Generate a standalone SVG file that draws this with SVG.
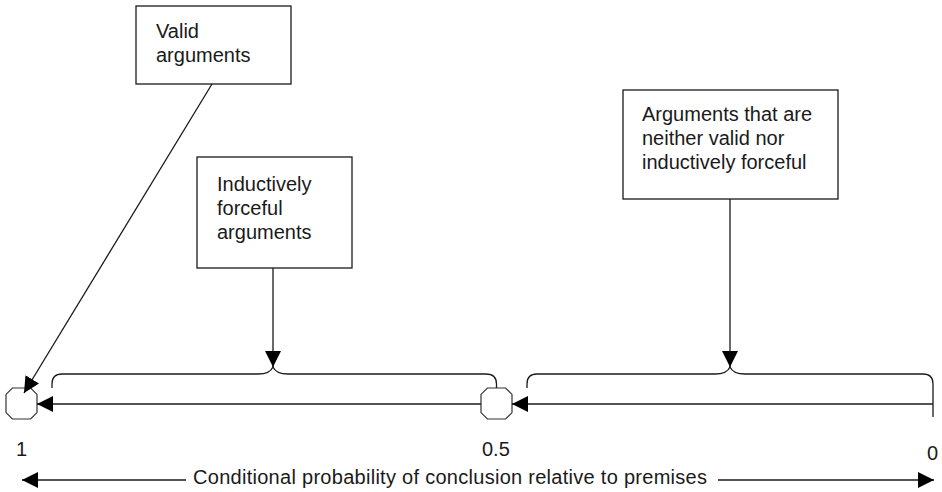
<svg xmlns="http://www.w3.org/2000/svg" width="942" height="492" viewBox="0 0 942 492">
<style>
.box{fill:#fff;stroke:#1a1a1a;stroke-width:1.3}
.ln{fill:none;stroke:#1a1a1a;stroke-width:1.3}
.oct{fill:#fff;stroke:#333;stroke-width:1.2}
text{font-family:"Liberation Sans",Arial,sans-serif;font-size:20px;fill:#1a1a1a}
</style>
<defs>
<marker id="ah" markerUnits="userSpaceOnUse" markerWidth="17" markerHeight="17" refX="16" refY="8" orient="auto">
<path d="M0,0 L16,8 L0,16 z" fill="#000"/>
</marker>
</defs>
<g id="node-valid">
<rect class="box" x="136" y="6" width="155" height="78"/>
<text x="156" y="38">Valid</text>
<text x="156" y="62">arguments</text>
</g>
<g id="node-inductive">
<rect class="box" x="197" y="157" width="155" height="111"/>
<text x="217" y="191">Inductively</text>
<text x="217" y="215">forceful</text>
<text x="217" y="239">arguments</text>
</g>
<g id="node-neither">
<rect class="box" x="623" y="90" width="215" height="109"/>
<text x="642" y="121">Arguments that are</text>
<text x="642" y="145">neither valid nor</text>
<text x="642" y="169">inductively forceful</text>
</g>
<g id="node-one">
<polygon class="oct" points="12.4,388 30.6,388 37,394.4 37,412.6 30.6,419 12.4,419 6,412.6 6,394.4"/>
</g>
<g id="node-half">
<polygon class="oct" points="487.4,388 505.6,388 512,394.4 512,412.6 505.6,419 487.4,419 481,412.6 481,394.4"/>
</g>
<g id="braces">
<path class="ln" d="M52,388 V384 Q52,374 62,374 H258 Q270,374 273,367 Q276,374 288,374 H486 Q496.5,374 496.5,384 V388"/>
<path class="ln" d="M527,388 V384 Q527,374 537,374 H715 Q727,374 730,367 Q733,374 745,374 H923 Q933,374 933,384 V417"/>
</g>
<g id="connectors">
<line class="ln" x1="212" y1="84" x2="24" y2="393" marker-end="url(#ah)"/>
<line class="ln" x1="273" y1="268" x2="273" y2="367" marker-end="url(#ah)"/>
<line class="ln" x1="730" y1="199" x2="730" y2="367" marker-end="url(#ah)"/>
<line class="ln" x1="933" y1="404" x2="512" y2="404" marker-end="url(#ah)"/>
<line class="ln" x1="481" y1="404" x2="37" y2="404" marker-end="url(#ah)"/>
<line class="ln" x1="186" y1="480" x2="22" y2="480" marker-end="url(#ah)"/>
<line class="ln" x1="718" y1="480" x2="934" y2="480" marker-end="url(#ah)"/>
</g>
<g id="labels">
<text x="16" y="456">1</text>
<text x="482" y="456">0.5</text>
<text x="927" y="460">0</text>
<text x="193" y="484" textLength="514" lengthAdjust="spacing">Conditional probability of conclusion relative to premises</text>
</g>
</svg>
